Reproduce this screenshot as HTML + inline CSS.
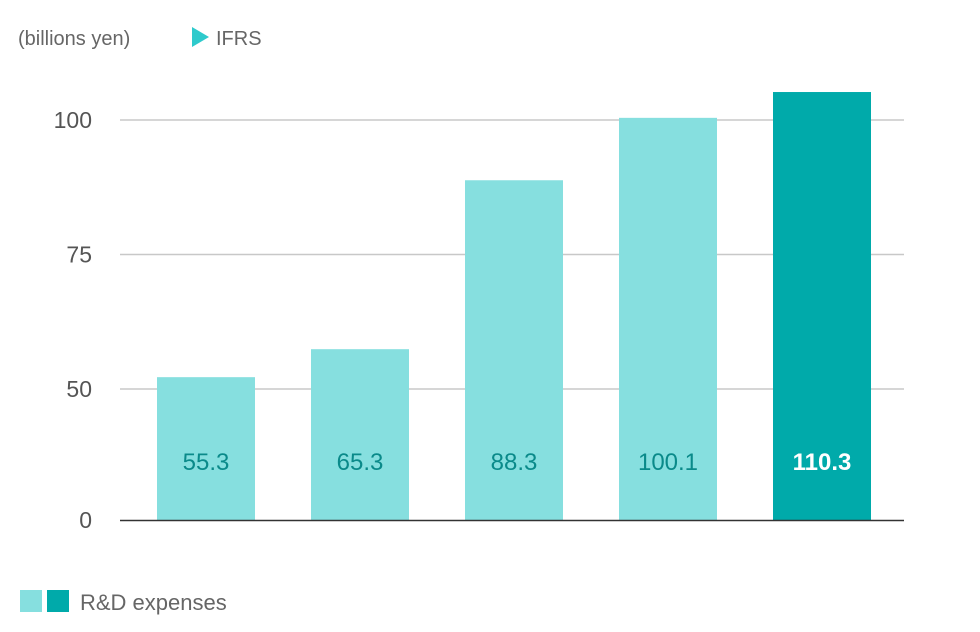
<!DOCTYPE html>
<html><head><meta charset="utf-8"><style>
body{margin:0;background:#fff;font-family:"Liberation Sans",sans-serif;}
svg{display:block}
</style></head><body>
<svg id="chart" width="980" height="632">
<text x="18" y="45" font-size="20" fill="#666">(billions yen)</text>
<polygon points="192,27 192,47 209,37" fill="#2ecacc"/>
<text x="216" y="45" font-size="20" fill="#666">IFRS</text>
<g id="grid"></g>
<g id="bars"></g>
<line x1="120" y1="520.5" x2="904" y2="520.5" stroke="#333" stroke-width="1.5"/>
<rect x="20" y="590" width="22" height="22" fill="#86dfdf"/>
<rect x="47" y="590" width="22" height="22" fill="#00aaaa"/>
<text x="80" y="610" font-size="22" fill="#666">R&amp;D expenses</text>
</svg>
<script>
const plotted = [52.2, 57.4, 88.8, 100.4, 105.2];
const labels = ["55.3", "65.3", "88.3", "100.1", "110.3"];
const ticks = [0, 50, 75, 100];
const ns = "http://www.w3.org/2000/svg";
function y(v){ return v <= 50 ? 520 - v * 131 / 50 : 389 - (v - 50) * 5.38; }
function x(i){ return 157 + i * 154; }
const grid = document.getElementById('grid');
ticks.forEach(t => {
  if (t > 0) {
    const l = document.createElementNS(ns, 'line');
    l.setAttribute('x1', 120); l.setAttribute('x2', 904);
    l.setAttribute('y1', y(t)); l.setAttribute('y2', y(t));
    l.setAttribute('stroke', '#c8c8c8'); l.setAttribute('stroke-width', '1.5');
    
    
    grid.appendChild(l);
  }
  const tx = document.createElementNS(ns, 'text');
  tx.setAttribute('x', 92); tx.setAttribute('y', y(t) + 8);
  tx.setAttribute('text-anchor', 'end'); tx.setAttribute('font-size', '23'); tx.setAttribute('fill', '#555');
  tx.textContent = t;
  
  
  grid.appendChild(tx);
});
const bars = document.getElementById('bars');
plotted.forEach((v, i) => {
  const last = i === plotted.length - 1;
  const r = document.createElementNS(ns, 'rect');
  r.setAttribute('x', x(i)); r.setAttribute('width', 98);
  r.setAttribute('y', y(v)); r.setAttribute('height', 520 - y(v));
  r.setAttribute('fill', last ? '#00aaaa' : '#86dfdf');
  
  
  bars.appendChild(r);
  const t = document.createElementNS(ns, 'text');
  t.setAttribute('x', x(i) + 49); t.setAttribute('y', 470);
  t.setAttribute('text-anchor', 'middle'); t.setAttribute('font-size', '24');
  t.setAttribute('fill', last ? '#fff' : '#0a8a8a');
  if (last) t.setAttribute('font-weight', 'bold');
  t.textContent = labels[i];
  
  
  bars.appendChild(t);
});
</script>
</body></html>
